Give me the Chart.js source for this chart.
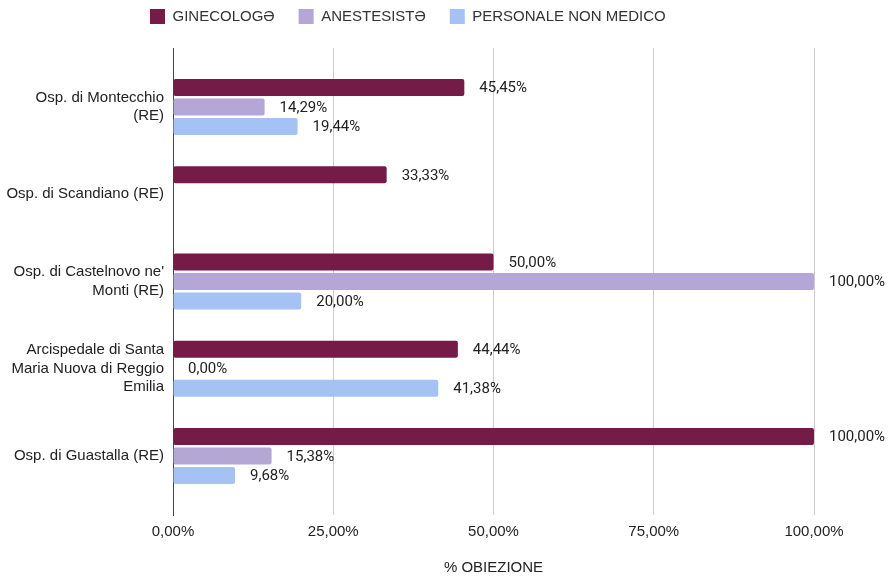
<!DOCTYPE html>
<html>
<head>
<meta charset="utf-8">
<script src="https://cdn.jsdelivr.net/npm/chart.js@4/dist/chart.umd.min.js"></script>
<style>
  html, body { margin: 0; padding: 0; background: #fff; }
  #wrap { width: 894px; height: 579px; }
</style>
</head>
<body>
<div id="wrap"><canvas id="obiezioneChart"></canvas></div>
<script>
    // hospitals (multi-line labels as in the original)
    const categories = [
        ['Osp. di Montecchio', '(RE)'],
        'Osp. di Scandiano (RE)',
        ["Osp. di Castelnovo ne'", 'Monti (RE)'],
        ['Arcispedale di Santa', 'Maria Nuova di Reggio', 'Emilia'],
        'Osp. di Guastalla (RE)'
    ];
    const ginecologi = [45.45, 33.33, 50.00, 44.44, 100.00];
    const anestesisti = [14.29, null, 100.00, 0.00, 15.38];
    const personaleNonMedico = [19.44, null, 20.00, 41.38, 9.68];
    const xTicks = [0, 25, 50, 75, 100];

    const FONT = "'Liberation Sans', Arial, sans-serif";

    function pct(v) {
        return v.toFixed(2).replace('.', ',') + '%';
    }

    // value labels to the right of each bar
    const barLabels = {
        id: 'barLabels',
        afterDatasetsDraw(chart) {
            const ctx = chart.ctx;
            ctx.save();
            ctx.font = "15px Roboto, sans-serif";
            ctx.fillStyle = '#222';
            ctx.textAlign = 'left';
            ctx.textBaseline = 'middle';
            chart.data.datasets.forEach((ds, i) => {
                const meta = chart.getDatasetMeta(i);
                meta.data.forEach((bar, j) => {
                    const v = ds.data[j];
                    if (v === null || v === undefined) return;
                    ctx.fillText(pct(v), bar.x + 15, bar.y + 1);
                });
            });
            ctx.restore();
        }
    };

    // legend sits left of centre and close to the top in the original
    const legendPlace = {
        id: 'legendPlace',
        beforeInit(chart) {
            const legend = chart.legend;
            const fit = legend.fit;
            legend.fit = function () {
                fit.call(this);
                this.height = 48;
            };
        },
        afterLayout(chart) {
            const legend = chart.legend;
            const pad = legend.options.labels.padding;
            legend.left = 150 - pad;
            legend.top = 17 - pad - 8;
        }
    };

    const ctx = document.getElementById('obiezioneChart').getContext('2d');
    const chart = new Chart(ctx, {
        type: 'bar',
        data: {
            labels: categories,
            datasets: [
                { label: 'GINECOLOGƏ', data: ginecologi, backgroundColor: '#741b47' },
                { label: 'ANESTESISTƏ', data: anestesisti, backgroundColor: '#b4a7d6' },
                { label: 'PERSONALE NON MEDICO', data: personaleNonMedico, backgroundColor: '#a4c2f4' }
            ]
        },
        options: {
            indexAxis: 'y',
            responsive: true,
            maintainAspectRatio: false,
            animation: false,
            devicePixelRatio: 1,
            layout: { padding: { left: 0, right: 80, top: 0, bottom: 0 } },
            datasets: {
                bar: {
                    categoryPercentage: 0.67,
                    barPercentage: 0.87,
                    borderRadius: 2,
                    borderSkipped: false
                }
            },
            plugins: {
                legend: {
                    position: 'top',
                    align: 'start',
                    labels: {
                        boxWidth: 15,
                        boxHeight: 15,
                        padding: 24,
                        color: '#333',
                        font: { family: FONT, size: 15 }
                    }
                },
                tooltip: { enabled: false }
            },
            scales: {
                x: {
                    min: 0,
                    max: 100,
                    afterBuildTicks(scale) {
                        scale.ticks = xTicks.map(v => ({ value: v }));
                    },
                    afterFit(scale) { scale.height = 64; },
                    grid: { color: '#cccccc', drawTicks: false },
                    border: { display: false },
                    ticks: {
                        padding: 8,
                        color: '#222',
                        font: { family: FONT, size: 15 },
                        callback: v => pct(v)
                    },
                    title: {
                        display: true,
                        text: '% OBIEZIONE',
                        color: '#222',
                        font: { family: FONT, size: 15 },
                        padding: { top: 4, bottom: 2 }
                    }
                },
                y: {
                    // extra room above first / below last hospital like the original
                    afterBuildTicks(scale) {
                        scale._startValue -= 0.177;
                        scale._valueRange += 0.354;
                    },
                    afterFit(scale) { scale.width = 173; },
                    grid: { display: false, drawTicks: false },
                    border: { display: true, color: '#444', width: 1 },
                    ticks: {
                        padding: 9,
                        color: '#222',
                        font: { family: FONT, size: 15, lineHeight: 1.23 }
                    }
                }
            }
        },
        plugins: [barLabels, legendPlace]
    });
</script>
</body>
</html>
